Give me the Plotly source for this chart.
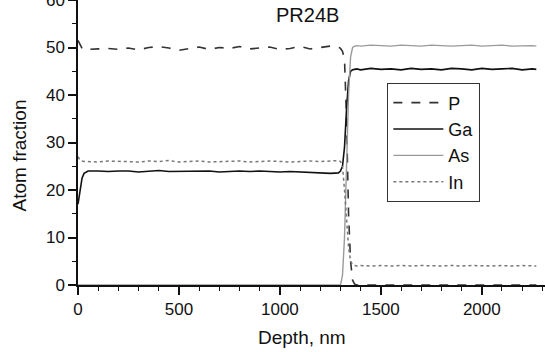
import plotly.graph_objects as go

depth = [0, 10, 20, 30, 50, 100, 150, 200, 250, 300, 350, 400, 450, 500, 550, 600, 650,
         700, 750, 800, 850, 900, 950, 1000, 1050, 1100, 1150, 1200, 1250, 1290, 1300,
         1310, 1320, 1330, 1340, 1350, 1360, 1370, 1380, 1400, 1450, 1500, 1550, 1600,
         1650, 1700, 1750, 1800, 1850, 1900, 1950, 2000, 2050, 2100, 2150, 2200, 2250, 2270]

P = [51.5, 50.5, 49.8, 50.0, 49.6, 49.7, 49.8, 49.6, 49.9, 49.5, 50.0, 50.2, 49.9, 49.4,
     49.7, 50.1, 49.6, 50.0, 49.8, 50.2, 49.7, 49.9, 50.1, 49.6, 49.8, 50.2, 49.7, 50.0,
     50.3, 50.1, 49.8, 49.2, 47.5, 35.0, 15.0, 5.0, 1.0, 0.2, 0.0, 0.0, 0.0, 0.0, 0.0, 0.0,
     0.0, 0.0, 0.0, 0.0, 0.0, 0.0, 0.0, 0.0, 0.0, 0.0, 0.0, 0.0, 0.0, 0.0]

Ga = [17.0, 20.0, 22.5, 23.5, 24.0, 24.0, 23.9, 24.0, 24.0, 23.8, 23.9, 24.1, 23.9, 23.9,
      24.0, 23.9, 24.0, 23.8, 23.9, 24.0, 23.9, 24.0, 23.9, 23.8, 23.9, 23.8, 23.7, 23.5,
      23.5, 23.6, 24.0, 25.0, 29.0, 37.0, 43.0, 45.0, 45.3, 45.4, 45.5, 45.3, 45.6, 45.4,
      45.5, 45.3, 45.6, 45.4, 45.5, 45.3, 45.6, 45.5, 45.3, 45.6, 45.4, 45.5, 45.6, 45.3,
      45.5, 45.4]

As = [0.0, 0.0, 0.0, 0.0, 0.0, 0.0, 0.0, 0.0, 0.0, 0.0, 0.0, 0.0, 0.0, 0.0, 0.0, 0.0, 0.0,
      0.0, 0.0, 0.0, 0.0, 0.0, 0.0, 0.0, 0.0, 0.0, 0.0, 0.0, 0.0, 0.0, 0.0, 2.0, 10.0,
      25.0, 40.0, 48.0, 50.0, 50.3, 50.4, 50.3, 50.5, 50.4, 50.3, 50.5, 50.4, 50.3, 50.5,
      50.4, 50.3, 50.4, 50.5, 50.3, 50.4, 50.5, 50.3, 50.4, 50.4, 50.3]

In = [27.0, 26.3, 26.1, 26.0, 26.0, 25.9, 26.1, 26.0, 26.0, 25.9, 26.1, 26.0, 26.2, 25.9,
      26.0, 26.1, 25.9, 26.0, 26.0, 26.1, 25.9, 26.0, 26.1, 26.0, 25.9, 26.0, 26.1, 26.0,
      26.1, 26.2, 26.0, 25.0, 20.0, 13.0, 8.0, 5.0, 4.3, 4.1, 4.0, 4.1, 4.0, 4.1, 4.0,
      4.1, 4.0, 4.1, 4.0, 4.0, 4.1, 4.0, 4.1, 4.0, 4.0, 4.1, 4.0, 4.1, 4.0, 4.0]

x_ticks = [0, 500, 1000, 1500, 2000]
y_ticks = [0, 10, 20, 30, 40, 50, 60]

FONT = "Liberation Sans, Arial, sans-serif"

fig = go.Figure()
series = [
    ("P", P, dict(color="#333333", width=1.6, dash="dash")),
    ("Ga", Ga, dict(color="#111111", width=1.6)),
    ("As", As, dict(color="#9a9a9a", width=1.4)),
    ("In", In, dict(color="#777777", width=1.5, dash="dot")),
]
for name, vals, line in series:
    fig.add_trace(go.Scatter(x=depth, y=vals, mode="lines", name=name, line=line,
                             legendgroup=name))

fig.add_annotation(text="PR24B", x=0.491, y=0.947, xref="paper", yref="paper",
                   xanchor="center", yanchor="middle",
                   showarrow=False, font=dict(family=FONT, size=20, color="#111"))
fig.add_annotation(text="Depth, nm", x=0.48, y=-0.185, xref="paper", yref="paper",
                   xanchor="center", yanchor="middle", showarrow=False,
                   font=dict(family=FONT, size=19, color="#111"))
fig.add_annotation(text="Atom fraction", x=-0.126, y=0.455, xref="paper", yref="paper",
                   xanchor="center", yanchor="middle", textangle=-90, showarrow=False,
                   font=dict(family=FONT, size=19, color="#111"))

fig.update_layout(
    width=545, height=352,
    margin=dict(l=78, r=0, t=0, b=67, autoexpand=False),
    paper_bgcolor="white", plot_bgcolor="white",
    font=dict(family=FONT, size=17, color="#111"),
    showlegend=True,
    legend=dict(x=0.662, y=0.708, xanchor="left", yanchor="top",
                bordercolor="#333", borderwidth=1.2, bgcolor="rgba(255,255,255,0)",
                font=dict(family=FONT, size=18, color="#111"),
                tracegroupgap=0, itemwidth=50),
)
fig.update_xaxes(
    range=[0, 2313], tickvals=x_ticks, ticktext=[str(v) for v in x_ticks],
    automargin=False, ticklabeloverflow="allow",
    showline=True, linecolor="#111", linewidth=1.5, showgrid=False, zeroline=False,
    ticks="outside", ticklen=8, tickwidth=1.5, tickcolor="#111",
    minor=dict(dtick=100, ticks="outside", ticklen=4, tickwidth=1.3, tickcolor="#111"),
    tickfont=dict(family=FONT, size=17),
)
fig.update_yaxes(
    range=[0, 60], tickvals=y_ticks, ticktext=[str(v) for v in y_ticks],
    automargin=False, ticklabeloverflow="allow",
    showline=True, linecolor="#111", linewidth=1.5, showgrid=False, zeroline=False,
    ticks="outside", ticklen=8, tickwidth=1.5, tickcolor="#111",
    minor=dict(dtick=5, ticks="outside", ticklen=4, tickwidth=1.3, tickcolor="#111"),
    tickfont=dict(family=FONT, size=17),
)

fig.write_html("out.html", config={"displayModeBar": False},
               post_script="document.body.style.margin='0';")
